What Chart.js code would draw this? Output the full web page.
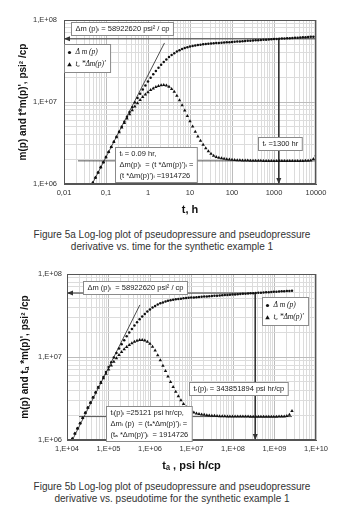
<!DOCTYPE html>
<html>
<head>
<meta charset="utf-8">
<script src="https://cdn.jsdelivr.net/npm/chart.js@4.4.1/dist/chart.umd.min.js"></script>
<style>
  body { margin: 0; width: 344px; height: 520px; background: #fff; position: relative; overflow: hidden; font-family: 'Liberation Sans', Arial, sans-serif; }
  .wrap { position: absolute; left: 0; width: 344px; }
  #wrap1 { top: 0; height: 222px; }
  #wrap2 { top: 255px; height: 220px; }
  .caption { position: absolute; left: 0; width: 344px; text-align: center; font-size: 10px; line-height: 12px; color: #333; }
  #cap1 { top: 229px; }
  #cap2 { top: 481px; }
</style>
</head>
<body>
<div class="wrap" id="wrap1"><canvas id="chart1"></canvas></div>
<div class="caption" id="cap1">Figure 5a Log-log plot of pseudopressure and pseudopressure<br>derivative vs. time for the synthetic example 1</div>
<div class="wrap" id="wrap2"><canvas id="chart2"></canvas></div>
<div class="caption" id="cap2">Figure 5b Log-log plot of pseudopressure and pseudopressure<br>derivative vs. pseudotime for the synthetic example 1</div>

<script>
// time, h (fig 5a)
const timeH = [0.0487, 0.0562, 0.0649, 0.0750, 0.0866, 0.1000, 0.1155, 0.1334, 0.1540, 0.1778,
  0.2054, 0.2371, 0.2738, 0.3162, 0.3652, 0.4217, 0.4870, 0.5623, 0.6494, 0.7499,
  0.8660, 1.000, 1.155, 1.334, 1.540, 1.778, 2.054, 2.371, 2.738, 3.162,
  3.652, 4.217, 4.870, 5.623, 6.494, 7.499, 8.660, 10.00, 11.55, 13.34,
  15.40, 17.78, 20.54, 23.71, 27.38, 31.62, 36.52, 42.17, 48.70, 56.23,
  64.94, 74.99, 86.60, 100.0, 115.5, 133.4, 154.0, 177.8, 205.4, 237.1,
  273.8, 316.2, 365.2, 421.7, 487.0, 562.3, 649.4, 749.9, 866.0, 1000,
  1155, 1334, 1540, 1778, 2054, 2371, 2738, 3162, 3652, 4217,
  4870, 5623, 6494, 7499, 8660, 10000];

// pseudotime, psi h/cp (fig 5b)
const pseudoTime = [1.344e4, 1.551e4, 1.791e4, 2.070e4, 2.390e4, 2.760e4, 3.188e4, 3.682e4, 4.250e4, 4.907e4,
  5.669e4, 6.544e4, 7.557e4, 8.727e4, 1.008e5, 1.164e5, 1.344e5, 1.552e5, 1.792e5, 2.070e5,
  2.390e5, 2.740e5, 3.165e5, 3.655e5, 4.220e5, 4.872e5, 5.628e5, 6.497e5, 7.502e5, 8.632e5,
  9.970e5, 1.151e6, 1.330e6, 1.535e6, 1.773e6, 2.047e6, 2.364e6, 2.710e6, 3.130e6, 3.615e6,
  4.173e6, 4.818e6, 5.566e6, 6.425e6, 7.420e6, 8.537e6, 9.860e6, 1.139e7, 1.315e7, 1.518e7,
  1.753e7, 2.025e7, 2.338e7, 2.680e7, 3.095e7, 3.575e7, 4.127e7, 4.765e7, 5.505e7, 6.354e7,
  7.338e7, 8.427e7, 9.733e7, 1.124e8, 1.298e8, 1.499e8, 1.731e8, 1.999e8, 2.308e8, 2.650e8,
  3.061e8, 3.535e8, 4.081e8, 4.712e8, 5.443e8, 6.283e8, 7.256e8, 8.379e8, 9.641e8, 1.113e9,
  1.286e9, 1.484e9, 1.714e9, 1.980e9, 2.286e9, 2.640e9];

// delta m(p), psi^2/cp
const deltaM = [1.035e6, 1.196e6, 1.381e6, 1.595e6, 1.843e6, 2.128e6, 2.457e6, 2.836e6, 3.272e6, 3.774e6,
  4.349e6, 5.006e6, 5.756e6, 6.607e6, 7.569e6, 8.647e6, 9.849e6, 11.18e6, 12.64e6, 14.23e6,
  15.94e6, 17.78e6, 19.73e6, 21.79e6, 23.94e6, 26.17e6, 28.45e6, 30.76e6, 33.06e6, 35.30e6,
  37.44e6, 39.44e6, 41.25e6, 42.87e6, 44.28e6, 45.50e6, 46.56e6, 47.46e6, 48.24e6, 48.91e6,
  49.50e6, 50.02e6, 50.47e6, 50.89e6, 51.26e6, 51.61e6, 51.94e6, 52.25e6, 52.55e6, 52.85e6,
  53.15e6, 53.44e6, 53.72e6, 54.01e6, 54.29e6, 54.58e6, 54.86e6, 55.14e6, 55.41e6, 55.69e6,
  55.97e6, 56.25e6, 56.52e6, 56.80e6, 57.07e6, 57.35e6, 57.62e6, 57.90e6, 58.18e6, 58.45e6,
  58.73e6, 59.00e6, 59.28e6, 59.56e6, 59.83e6, 60.11e6, 60.38e6, 60.66e6, 60.93e6, 61.21e6,
  61.49e6, 61.76e6, 62.04e6, 62.31e6, 62.60e6, 62.91e6];

// t*delta m(p)', psi^2/cp
const deltaMDeriv = [1.035e6, 1.197e6, 1.380e6, 1.596e6, 1.841e6, 2.123e6, 2.449e6, 2.818e6, 3.243e6, 3.724e6,
  4.266e6, 4.875e6, 5.546e6, 6.281e6, 7.079e6, 7.907e6, 8.790e6, 9.683e6, 10.59e6, 11.48e6,
  12.36e6, 13.18e6, 13.96e6, 14.66e6, 15.24e6, 15.70e6, 16.00e6, 16.07e6, 15.85e6, 15.31e6,
  14.45e6, 13.30e6, 11.94e6, 10.52e6, 9.120e6, 7.852e6, 6.761e6, 5.821e6, 5.012e6, 4.345e6,
  3.802e6, 3.365e6, 3.006e6, 2.723e6, 2.500e6, 2.333e6, 2.213e6, 2.138e6, 2.089e6, 2.056e6,
  2.028e6, 2.009e6, 1.991e6, 1.977e6, 1.963e6, 1.954e6, 1.945e6, 1.936e6, 1.932e6, 1.928e6,
  1.923e6, 1.919e6, 1.917e6, 1.916e6, 1.915e6, 1.914e6, 1.914e6, 1.913e6, 1.913e6, 1.912e6,
  1.912e6, 1.912e6, 1.911e6, 1.911e6, 1.911e6, 1.911e6, 1.911e6, 1.911e6, 1.912e6, 1.912e6,
  1.913e6, 1.915e6, 1.918e6, 1.941e6, 2.018e6, 2.239e6];

// reference values
const deltaMi = 58922620;
const derivI = 1914726;
const trTime = 1300;
const trPseudo = 343851894;

// unit slope lines
const slopeT = [0.047, 2.47];
const slopeTa = [1.35e4, 5.7e5];
const slopeV = [1.0e6, 5.25e7];
const slopeVa = [1.0e6, 4.24e7];

// extent of the horizontal guide lines
const dmiLineT = [0.01, 10000];
const dmiLineTa = [1e4, trPseudo];
const derivLineT = [0.0215, 10000];
const derivLineTa = [1.95e4, 2.64e9];

// axes
const xTicks1 = [0.01, 0.1, 1, 10, 100, 1000, 10000];
const xTickLabels1 = ['0,01', '0,1', '1', '10', '100', '1000', '10000'];
const xTicks2 = [1e4, 1e5, 1e6, 1e7, 1e8, 1e9, 1e10];
const xTickLabels2 = ['1,E+04', '1,E+05', '1,E+06', '1,E+07', '1,E+08', '1,E+09', '1,E+10'];
const yTicks = [1e6, 1e7, 1e8];
const yTickLabels = ['1,E+06', '1,E+07', '1,E+08'];

function pts(xs, ys) {
  return xs.map((x, i) => ({ x: x, y: ys[i] }));
}

// 1..9 per decade for the grid
function logGrid(min, max) {
  const out = [];
  for (let e = Math.floor(Math.log10(min)); e <= Math.ceil(Math.log10(max)); e++) {
    for (let m = 1; m < 10; m++) {
      const v = m * Math.pow(10, e);
      if (v >= min * 0.999 && v <= max * 1.001) out.push({ value: v });
    }
  }
  return out;
}

function isTick(list, value) {
  return list.findIndex(v => Math.abs(Math.log10(v) - Math.log10(value)) < 1e-6);
}

const notesPlugin = {
  id: 'notes',
  afterDatasetsDraw(chart, args, opts) {
    const ctx = chart.ctx;
    const xs = chart.scales.x, ys = chart.scales.y;
    const a = chart.chartArea;
    ctx.save();
    // frame
    ctx.strokeStyle = '#555';
    ctx.lineWidth = 1;
    ctx.strokeRect(Math.round(a.left) + 0.5, Math.round(a.top) + 0.5, Math.round(a.right - a.left) - 1, Math.round(a.bottom - a.top) - 1);

    // arrow heads
    ctx.fillStyle = '#333';
    (opts.arrows || []).forEach(ar => {
      const px = xs.getPixelForValue(ar.x), py = ys.getPixelForValue(ar.y);
      ctx.beginPath();
      if (ar.dir === 'left') {
        ctx.moveTo(px, py); ctx.lineTo(px + 6, py - 2.5); ctx.lineTo(px + 6, py + 2.5);
      } else {
        ctx.moveTo(px, py); ctx.lineTo(px - 2.5, py - 6); ctx.lineTo(px + 2.5, py - 6);
      }
      ctx.closePath();
      ctx.fill();
    });

    // text boxes
    ctx.font = '7.5px "Liberation Sans", "DejaVu Sans", sans-serif';
    ctx.textBaseline = 'middle';
    ctx.textAlign = 'left';
    (opts.boxes || []).forEach(b => {
      const lh = 11;
      const w = Math.max(...b.lines.map(t => ctx.measureText(t).width)) + 8;
      const h = b.lines.length * lh + 2;
      const cx = xs.getPixelForValue(b.x), cy = ys.getPixelForValue(b.y);
      const left = Math.round(cx - w / 2) + 0.5, top = Math.round(cy - h / 2) + 0.5;
      ctx.fillStyle = '#fff';
      ctx.fillRect(left, top, w, h);
      ctx.strokeStyle = '#8a8a8a';
      ctx.lineWidth = 1;
      ctx.strokeRect(left, top, w, h);
      ctx.fillStyle = '#222';
      b.lines.forEach((t, i) => ctx.fillText(t, left + 4, top + 1 + lh * (i + 0.5)));
    });

    // legend
    const lg = opts.legend;
    if (lg) {
      ctx.font = 'italic 7.5px "Liberation Serif", "DejaVu Serif", serif';
      const names = chart.data.datasets.slice(0, 2).map(d => d.label);
      const w = Math.max(...names.map(t => ctx.measureText(t).width)) + 16;
      const h = 28;
      const left = Math.round(xs.getPixelForValue(lg.x)) + 0.5, top = Math.round(ys.getPixelForValue(lg.y)) + 0.5;
      ctx.fillStyle = '#fff';
      ctx.fillRect(left, top, w, h);
      ctx.strokeStyle = '#8a8a8a';
      ctx.strokeRect(left, top, w, h);
      ctx.fillStyle = '#111';
      names.forEach((t, i) => {
        const yy = top + 8 + i * 12;
        ctx.beginPath();
        if (i === 0) {
          ctx.arc(left + 5, yy, 1.6, 0, Math.PI * 2);
        } else {
          ctx.moveTo(left + 5, yy - 2.2); ctx.lineTo(left + 7.3, yy + 1.8); ctx.lineTo(left + 2.7, yy + 1.8); ctx.closePath();
        }
        ctx.fill();
        ctx.fillText(t, left + 11, yy);
      });
    }
    ctx.restore();
  }
};

function makeChart(canvasId, c) {
  const canvas = document.getElementById(canvasId);
  const ctx = canvas.getContext('2d');
  const line = { showLine: true, pointRadius: 0, borderColor: '#333', borderWidth: 1, backgroundColor: '#333' };
  return new Chart(ctx, {
    type: 'scatter',
    data: {
      datasets: [
        { label: 'Δ m (p)', data: pts(c.xs, deltaM), pointStyle: 'circle', pointRadius: 1.25,
          backgroundColor: '#111', borderColor: '#111', borderWidth: 0 },
        { label: 'tₐ *Δm(p)\'', data: pts(c.xs, deltaMDeriv), pointStyle: 'triangle', pointRadius: 2,
          backgroundColor: '#111', borderColor: '#111', borderWidth: 0 },
        Object.assign({ data: pts(c.slopeX, c.slopeY), borderWidth: 0.8, borderColor: '#222' }, { showLine: true, pointRadius: 0 }),
        Object.assign({}, line, { data: [{ x: c.dmiX[0], y: deltaMi }, { x: c.dmiX[1], y: deltaMi }] }),
        Object.assign({}, line, { data: [{ x: c.tr, y: deltaMi }, { x: c.tr, y: 1e6 }] }),
        Object.assign({}, line, { data: [{ x: c.derivX[0], y: derivI }, { x: c.derivX[1], y: derivI }], borderColor: '#555' })
      ]
    },
    options: {
      responsive: true,
      maintainAspectRatio: false,
      animation: false,
      devicePixelRatio: 1,
      events: [],
      layout: { padding: { top: c.padTop, right: 28, left: 0, bottom: 0 } },
      scales: {
        x: {
          type: 'logarithmic',
          min: c.xMin,
          max: c.xMax,
          afterBuildTicks: s => { s.ticks = logGrid(c.xMin, c.xMax); },
          afterFit: s => { s.height = c.xAxisH; },
          ticks: {
            autoSkip: false, maxRotation: 0, padding: 4, color: '#333',
            font: { family: 'Liberation Sans', size: 7.5 },
            callback: v => { const i = isTick(c.xTicks, v); return i >= 0 ? c.xLabels[i] : ''; }
          },
          grid: {
            drawTicks: false, lineWidth: 1,
            color: g => isTick(c.xTicks, g.tick.value) >= 0 ? '#bcbcbc' : '#dcdcdc'
          },
          border: { display: true, color: '#555' },
          title: { display: true, text: c.xTitle, color: '#111', font: { family: 'Liberation Sans', size: 11, weight: 'bold' }, padding: { top: 0, bottom: c.xTitlePad } }
        },
        y: {
          type: 'logarithmic',
          min: 1e6,
          max: 1e8,
          afterBuildTicks: s => { s.ticks = logGrid(1e6, 1e8); },
          afterFit: s => { s.width = c.yAxisW; },
          ticks: {
            autoSkip: false, padding: c.yTickPad, color: '#333',
            font: { family: 'Liberation Sans', size: 7.5 },
            callback: v => { const i = isTick(yTicks, v); return i >= 0 ? yTickLabels[i] : ''; }
          },
          grid: {
            drawTicks: false, lineWidth: 1,
            color: g => isTick(yTicks, g.tick.value) >= 0 ? '#bcbcbc' : '#dcdcdc'
          },
          border: { display: true, color: '#555' },
          title: { display: true, text: c.yTitle, color: '#111', font: { family: 'Liberation Sans', size: 10, weight: 'bold' }, padding: { top: c.yTitlePad, bottom: 0 } }
        }
      },
      plugins: {
        legend: { display: false },
        tooltip: { enabled: false },
        notes: c.notes
      }
    },
    plugins: [notesPlugin]
  });
}

document.addEventListener('DOMContentLoaded', function () {
  // Figure 5a - vs time
  makeChart('chart1', {
    xs: timeH, xMin: 0.01, xMax: 10000, xTicks: xTicks1, xLabels: xTickLabels1,
    slopeX: slopeT, slopeY: slopeV, dmiX: dmiLineT, tr: trTime, derivX: derivLineT,
    padTop: 20, xAxisH: 38, yAxisW: 64, xTitlePad: 5, yTitlePad: 17, yTickPad: 7,
    xTitle: 't, h', yTitle: 'm(p) and t*m(p)\', psi² /cp',
    notes: {
      arrows: [{ x: 0.01, y: deltaMi, dir: 'left' }, { x: trTime, y: 1e6, dir: 'down' }],
      boxes: [
        { x: 0.234, y: 7.87e7, lines: ['Δm (p)ᵢ = 58922620 psi² / cp'] },
        { x: 1390, y: 3.16e6, lines: ['tᵣ =1300 hr'] },
        { x: 1.55, y: 1.71e6, lines: ['tᵢ = 0.09 hr,', 'Δm(p)ᵢ  = (t *Δm(p)\')ᵢ =', '(t *Δm(p)\')ᵢ =1914726'] }
      ],
      legend: { x: 0.0102, y: 5.09e7 }
    }
  });

  // Figure 5b - vs pseudotime
  makeChart('chart2', {
    xs: pseudoTime, xMin: 1e4, xMax: 1e10, xTicks: xTicks2, xLabels: xTickLabels2,
    slopeX: slopeTa, slopeY: slopeVa, dmiX: dmiLineTa, tr: trPseudo, derivX: derivLineTa,
    padTop: 19, xAxisH: 35, yAxisW: 67, xTitlePad: 2, yTitlePad: 19, yTickPad: 5,
    xTitle: 'tₐ , psi h/cp', yTitle: 'm(p) and tₐ *m(p)\', psi² /cp',
    notes: {
      arrows: [{ x: 1e4, y: deltaMi, dir: 'left' }, { x: trPseudo, y: 1e6, dir: 'down' }],
      boxes: [
        { x: 4.24e5, y: 6.88e7, lines: ['Δm (p)ᵢ  = 58922620 psi² / cp'] },
        { x: 1.32e8, y: 4.17e6, lines: ['tᵣ(p)ᵢ = 343851894 psi hr/cp'] },
        { x: 9.46e5, y: 1.58e6, lines: ['tᵢ(p)ᵢ =25121 psi hr/cp,', 'Δmᵢ (p)  = (tₐ*Δm(p)\')ᵢ =', '(tₐ *Δm(p)\')ᵢ  = 1914726'] }
      ],
      legend: { x: 5.0e8, y: 5.28e7 }
    }
  });
});
</script>
</body>
</html>
